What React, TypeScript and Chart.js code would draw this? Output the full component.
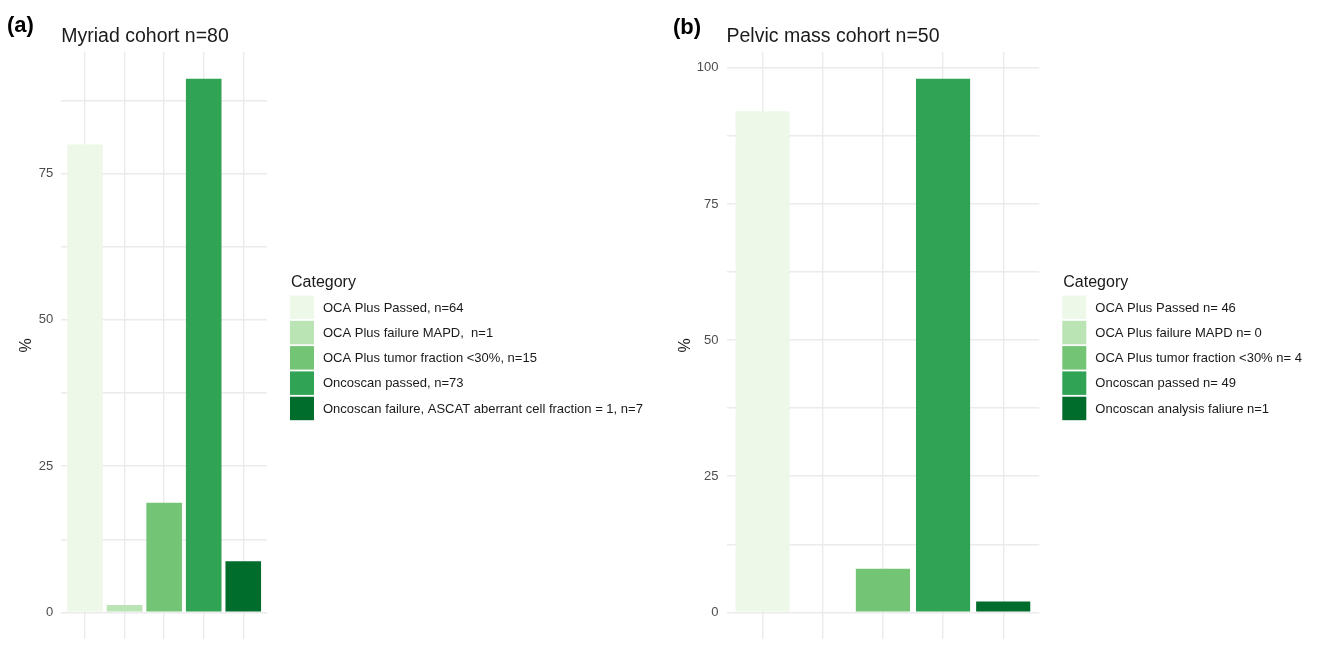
import React, { useEffect, useRef } from "react";
import { Chart, registerables } from "chart.js";

Chart.register(...registerables);

// Category labels, percentages and axis ticks for each cohort
const categoriesMyriad = [
  "OCA Plus Passed, n=64",
  "OCA Plus failure MAPD,  n=1",
  "OCA Plus tumor fraction <30%, n=15",
  "Oncoscan passed, n=73",
  "Oncoscan failure, ASCAT aberrant cell fraction = 1, n=7",
];
const percentMyriad = [80, 1.25, 18.75, 91.25, 8.75];
const yTicksMyriad = [0, 25, 50, 75];

const categoriesPelvic = [
  "OCA Plus Passed n= 46",
  "OCA Plus failure MAPD n= 0",
  "OCA Plus tumor fraction <30% n= 4",
  "Oncoscan passed n= 49",
  "Oncoscan analysis faliure n=1",
];
const percentPelvic = [92, 0, 8, 98, 2];
const yTicksPelvic = [0, 25, 50, 75, 100];

// ColorBrewer "Greens" (5 classes)
const greens = ["#edf8e9", "#bae4b3", "#74c476", "#31a354", "#006d2c"];

const FONT = "'Liberation Sans', Arial, Helvetica, sans-serif";
const CANVAS_W = 659;
const CANVAS_H = 647;

type Panel = {
  tag: string;
  title: string;
  categories: string[];
  values: number[];
  ticks: number[];
  layout: { left: number; plotLeft: number; plotRight: number; tagX: number; tagY: number };
};

const panels: Panel[] = [
  {
    tag: "(a)",
    title: "Myriad cohort n=80",
    categories: categoriesMyriad,
    values: percentMyriad,
    ticks: yTicksMyriad,
    layout: { left: 0, plotLeft: 61.3, plotRight: 267, tagX: 7, tagY: 31.5 },
  },
  {
    tag: "(b)",
    title: "Pelvic mass cohort n=50",
    categories: categoriesPelvic,
    values: percentPelvic,
    ticks: yTicksPelvic,
    layout: { left: 659, plotLeft: 67.5, plotRight: 380.3, tagX: 14, tagY: 34 },
  },
];

const PLOT_TOP = 52;
const PLOT_BOTTOM = 639;
const AXIS_PAD_LEFT = 17;

// Panel tag, title and the "Category" legend, drawn ggplot-style
function decorPlugin(panel: Panel) {
  return {
    id: "panelDecor",
    afterDraw(chart: any) {
      const { ctx, chartArea } = chart;
      ctx.save();
      ctx.textAlign = "left";
      ctx.textBaseline = "alphabetic";
      ctx.fillStyle = "#000000";
      ctx.font = `bold 22px ${FONT}`;
      ctx.fillText(panel.tag, panel.layout.tagX, panel.layout.tagY);

      ctx.fillStyle = "#1a1a1a";
      ctx.font = `19.5px ${FONT}`;
      ctx.fillText(panel.title, chartArea.left, 41.5);

      const lx = chartArea.right + 23;
      ctx.font = `16px ${FONT}`;
      ctx.fillText("Category", lx + 1, 287);

      ctx.font = `13px ${FONT}`;
      ctx.textBaseline = "middle";
      panel.categories.forEach((label, i) => {
        const top = 295.5 + i * 25.3;
        ctx.fillStyle = greens[i];
        ctx.fillRect(lx, top, 24, 23.5);
        ctx.fillStyle = "#1a1a1a";
        ctx.fillText(label, lx + 33, top + 12.5);
      });
      ctx.restore();
    },
  };
}

function buildConfig(panel: Panel): any {
  const n = panel.values.length;
  const yMax = Math.max(...panel.values);
  const pad = yMax * 0.05;
  const step = panel.ticks[1] - panel.ticks[0];
  const gridValues: number[] = [];
  for (let v = 0; v <= yMax + pad; v += step / 2) gridValues.push(v);
  const gridColor = "#ebebeb";

  return {
    type: "bar",
    data: {
      datasets: [
        {
          data: panel.values.map((v, i) => ({ x: i, y: v })),
          backgroundColor: greens,
          borderWidth: 0,
          barPercentage: 0.9,
          categoryPercentage: 1,
        },
      ],
    },
    options: {
      animation: false,
      responsive: false,
      maintainAspectRatio: false,
      layout: {
        padding: {
          left: AXIS_PAD_LEFT,
          top: PLOT_TOP,
          bottom: CANVAS_H - PLOT_BOTTOM,
          right: CANVAS_W - panel.layout.plotRight,
        },
      },
      plugins: {
        legend: { display: false },
        tooltip: { enabled: false },
        title: { display: false },
      },
      scales: {
        x: {
          type: "linear",
          offset: false,
          min: -0.6,
          max: n - 1 + 0.6,
          afterBuildTicks: (s: any) => {
            s.ticks = panel.values.map((_, i) => ({ value: i }));
          },
          afterFit: (s: any) => {
            s.height = 0;
            s.paddingLeft = 0;
            s.paddingRight = 0;
          },
          ticks: { display: false, autoSkip: false },
          grid: { color: gridColor, lineWidth: 1.4, drawTicks: false, offset: false },
          border: { display: false },
        },
        y: {
          type: "linear",
          min: -pad,
          max: yMax + pad,
          afterBuildTicks: (s: any) => {
            s.ticks = gridValues.map((v) => ({ value: v }));
          },
          afterFit: (s: any) => {
            s.width = panel.layout.plotLeft - AXIS_PAD_LEFT;
            s.paddingTop = 0;
            s.paddingBottom = 0;
          },
          ticks: {
            autoSkip: false,
            padding: 8,
            color: "#4d4d4d",
            font: { family: FONT, size: 13 },
            callback: (v: number) => (panel.ticks.includes(v) ? String(v) : ""),
          },
          grid: { color: gridColor, lineWidth: 1.4, drawTicks: false },
          border: { display: false },
          title: {
            display: true,
            text: "%",
            color: "#1a1a1a",
            font: { family: FONT, size: 16 },
            padding: 0,
          },
        },
      },
    },
    plugins: [decorPlugin(panel)],
  };
}

function PanelChart({ panel }: { panel: Panel }) {
  const ref = useRef<HTMLCanvasElement | null>(null);
  useEffect(() => {
    if (!ref.current) return;
    const chart = new Chart(ref.current, buildConfig(panel));
    return () => chart.destroy();
  }, [panel]);
  return (
    <canvas
      ref={ref}
      width={CANVAS_W}
      height={CANVAS_H}
      style={{
        position: "absolute",
        left: panel.layout.left,
        top: 0,
        width: CANVAS_W,
        height: CANVAS_H,
      }}
    />
  );
}

export default function App() {
  return (
    <div
      style={{
        position: "fixed",
        left: 0,
        top: 0,
        width: 1318,
        height: 647,
        background: "#ffffff",
        overflow: "hidden",
      }}
    >
      {panels.map((p) => (
        <PanelChart key={p.tag} panel={p} />
      ))}
    </div>
  );
}
